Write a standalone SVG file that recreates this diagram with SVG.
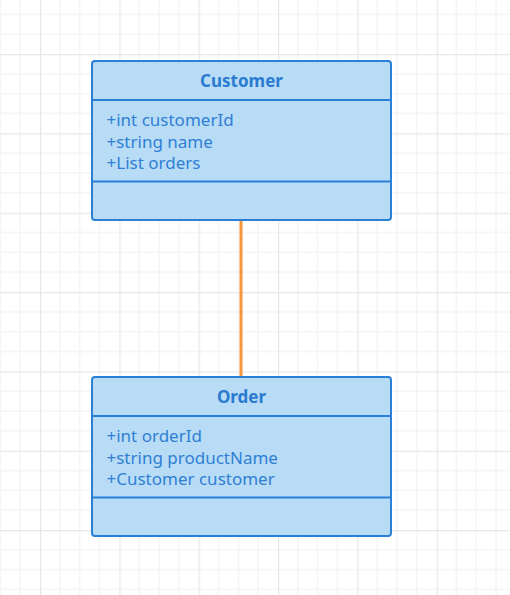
<svg xmlns="http://www.w3.org/2000/svg" width="510" height="595" viewBox="0 0 510 595">
  <defs>
    <pattern id="grid" patternUnits="userSpaceOnUse" x="40" y="54" width="79.33" height="79.33">
      <path d="M19.83 0V79.33M39.67 0V79.33M59.5 0V79.33M0 19.83H79.33M0 39.67H79.33M0 59.5H79.33" stroke="#f0f0f0" stroke-width="1" fill="none"/>
      <path d="M0.5 0V79.33M0 0.5H79.33" stroke="#e8e8e8" stroke-width="1.5" fill="none"/>
    </pattern>
    <style>
      .box { fill: #b8dcf6; stroke: #2a7fd6; stroke-width: 2; }
      .div { stroke: #2a7fd6; stroke-width: 2; fill: none; }
      .title { font-family: "Noto Sans", "Open Sans", sans-serif; font-size: 17px; font-weight: bold; fill: #2a7bd0; text-anchor: middle; }
      .attr { font-family: "Noto Sans", "Open Sans", sans-serif; font-size: 17px; fill: #2f7fd4; }
      .conn { stroke: #f7963c; stroke-width: 3; fill: none; }
    </style>
  </defs>
  <rect width="510" height="595" fill="#ffffff"/>
  <rect width="510" height="595" fill="url(#grid)"/>
  <g id="connectors">
    <path class="conn" d="M241 221V377"/>
  </g>
  <g id="customer">
    <rect class="box" x="92" y="61" width="299" height="159" rx="3"/>
    <path class="div" d="M92 100H391M92 181.5H391"/>
    <text class="title" x="241.5" y="86.5">Customer</text>
    <text class="attr" x="106.5" y="126">+int customerId</text>
    <text class="attr" x="106.5" y="147.5">+string name</text>
    <text class="attr" x="106.5" y="169">+List orders</text>
  </g>
  <g id="order">
    <rect class="box" x="92" y="377" width="299" height="159" rx="3"/>
    <path class="div" d="M92 416H391M92 497.5H391"/>
    <text class="title" x="241.5" y="402.5">Order</text>
    <text class="attr" x="106.5" y="442">+int orderId</text>
    <text class="attr" x="106.5" y="463.5">+string productName</text>
    <text class="attr" x="106.5" y="485">+Customer customer</text>
  </g>
</svg>
